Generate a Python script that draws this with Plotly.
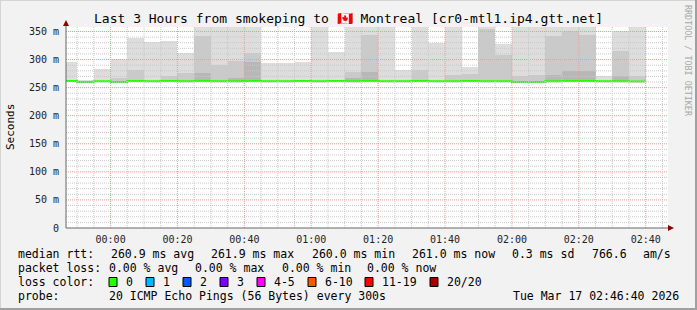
import plotly.graph_objects as go
from datetime import datetime, timedelta

# ---------------- data ----------------
END_TIMES = [
    "2026-03-16 23:50", "2026-03-16 23:55", "2026-03-17 00:00", "2026-03-17 00:05",
    "2026-03-17 00:10", "2026-03-17 00:15", "2026-03-17 00:20", "2026-03-17 00:25",
    "2026-03-17 00:30", "2026-03-17 00:35", "2026-03-17 00:40", "2026-03-17 00:45",
    "2026-03-17 00:50", "2026-03-17 00:55", "2026-03-17 01:00", "2026-03-17 01:05",
    "2026-03-17 01:10", "2026-03-17 01:15", "2026-03-17 01:20", "2026-03-17 01:25",
    "2026-03-17 01:30", "2026-03-17 01:35", "2026-03-17 01:40", "2026-03-17 01:45",
    "2026-03-17 01:50", "2026-03-17 01:55", "2026-03-17 02:00", "2026-03-17 02:05",
    "2026-03-17 02:10", "2026-03-17 02:15", "2026-03-17 02:20", "2026-03-17 02:25",
    "2026-03-17 02:30", "2026-03-17 02:35", "2026-03-17 02:40",
]
MEDIAN_RTT = [
    261.6, 260.1, 261.5, 260.2, 261.7, 261.4, 261.6, 261.5,
    261.8, 261.5, 261.4, 261.6, 261.5, 261.4, 261.6, 261.5,
    261.7, 261.5, 261.6, 261.4, 261.5, 261.6, 261.3, 261.5,
    261.6, 261.4, 261.5, 260.1, 260.0, 261.5, 261.7, 261.6,
    261.4, 261.5, 261.0,
]
SMOKE_MIN = [
    260.6, 259.3, 260.5, 259.4, 260.7, 260.4, 260.6, 260.5,
    260.8, 260.5, 260.4, 260.6, 260.5, 260.4, 260.6, 260.5,
    260.7, 260.5, 260.6, 260.4, 260.5, 260.6, 260.3, 260.5,
    260.6, 260.4, 260.5, 259.3, 259.2, 260.5, 260.7, 260.6,
    260.4, 260.5, 260.0,
]
SMOKE_MAX = [
    296, 262.8, 283, 301, 339, 331.5, 333, 312.5,
    395, 402, 388, 415, 293, 294, 295.5, 398,
    314, 405, 390, 420, 281, 385, 329, 400,
    287, 410, 327, 395, 388, 402, 415, 398,
    271, 350, 392,
]
SMOKE_MID = [
    None, None, None, 268, 282, None, 270, 276,
    342, 290, 298, 311, None, None, None, None,
    None, 278, 343, None, None, 281, None, 272,
    275, 354, 308, 270, 273, 342, 351, 344,
    None, 315, 270,
]
SMOKE_DARK = [
    None, None, None, None, None, None, None, None,
    276, None, 268, 296, None, None, None, None,
    None, 268, 277, None, None, None, None, None,
    None, None, None, None, None, 273, 280, 280,
    None, 271, None,
]
Y_TICKS = [0, 50, 100, 150, 200, 250, 300, 350]
Y_TICK_LABELS = ["0", "50 m", "100 m", "150 m", "200 m", "250 m", "300 m", "350 m"]
X_TICKS = ["2026-03-17 00:00", "2026-03-17 00:20", "2026-03-17 00:40", "2026-03-17 01:00",
           "2026-03-17 01:20", "2026-03-17 01:40", "2026-03-17 02:00", "2026-03-17 02:20",
           "2026-03-17 02:40"]
X_TICK_LABELS = ["00:00", "00:20", "00:40", "01:00", "01:20", "01:40", "02:00", "02:20", "02:40"]
LOSS_LABELS = ["0", "1", "2", "3", "4-5", "6-10", "11-19", "20/20"]
LOSS_COLORS = ["#26ff00", "#00b8ff", "#0059ff", "#7e00ff", "#ff00ff", "#ff5500", "#ff0000", "#a10000"]
RTT_ROW = ["median rtt:", "260.9 ms avg", "261.9 ms max", "260.0 ms min", "261.0 ms now",
           "0.3 ms sd", "766.6", "am/s"]
LOSS_STATS = ["0.00 % avg", "0.00 % max", "0.00 % min", "0.00 % now"]
PROBE_TEXT = "20 ICMP Echo Pings (56 Bytes) every 300s"
STAMP_TEXT = "Tue Mar 17 02:46:40 2026"
TITLE = "Last 3 Hours from smokeping to 🇨🇦 Montreal [cr0-mtl1.ip4.gtt.net]"

# ---------------- layout constants ----------------
FIG_W, FIG_H = 697, 310
L, R, T, B = 66, 668, 27, 228
PW, PH = R - L, B - T
FONT = "DejaVu Sans Mono"
BG = "#f2f2f2"
Y_MAX = 358
X_RANGE = ["2026-03-16 23:46:40", "2026-03-17 02:46:40"]
LEG_SIZE = 11.5
CHAR_W = LEG_SIZE * 0.602


def px(xp):
    return (xp - L) / PW


def py(yp):
    return (B - yp) / PH


t_end = [datetime.strptime(s, "%Y-%m-%d %H:%M") for s in END_TIMES]
step = timedelta(minutes=5)
centers = [t - step / 2 for t in t_end]

fig = go.Figure()


def smoke_layer(tops, color):
    ys = [None if top is None else top - b for top, b in zip(tops, SMOKE_MIN)]
    fig.add_trace(go.Bar(
        x=centers, y=ys, base=SMOKE_MIN, width=step.total_seconds() * 1000,
        marker=dict(color=color, line=dict(width=0)), showlegend=False,
        hoverinfo="skip"))


smoke_layer(SMOKE_MAX, "#dddddd")
smoke_layer(SMOKE_MID, "#cacaca")
smoke_layer(SMOKE_DARK, "#b7b7b7")

# median line (step)
xs = [t - step for t in t_end] + [t_end[-1]]
ys = MEDIAN_RTT + [MEDIAN_RTT[-1]]
fig.add_trace(go.Scatter(x=xs, y=ys, mode="lines", line=dict(color=LOSS_COLORS[0], width=2, shape="hv"),
                         showlegend=False, hoverinfo="skip"))

shapes = []
# horizontal grid
for v in range(10, 360, 10):
    major = v % 50 == 0
    shapes.append(dict(type="line", xref="paper", yref="y", x0=0, x1=1, y0=v, y1=v, layer="above",
                       line=dict(color="#ee9a9a" if major else "#c8c8c8", width=1, dash="1px,1px")))
# vertical grid
g = datetime(2026, 3, 16, 23, 50)
gend = datetime(2026, 3, 17, 2, 46)
while g <= gend:
    major = (g.minute % 20 == 0)
    shapes.append(dict(type="line", xref="x", yref="paper", x0=g, x1=g, y0=0, y1=1, layer="above",
                       line=dict(color="#ee9a9a" if major else "#c8c8c8", width=1, dash="1px,1px")))
    g += step

AXIS_C = "#666666"
ARROW_C = "#8b0000"
# axes
shapes.append(dict(type="line", xref="paper", yref="paper", x0=0, x1=0, y0=0, y1=py(23), layer="above",
                   line=dict(color=AXIS_C, width=1)))
shapes.append(dict(type="line", xref="paper", yref="paper", x0=0, x1=px(670), y0=0, y1=0, layer="above",
                   line=dict(color=AXIS_C, width=1)))
shapes.append(dict(type="path", xref="paper", yref="paper", layer="above",
                   path=f"M {px(63)},{py(26)} L {px(69)},{py(26)} L {px(66)},{py(20)} Z",
                   fillcolor=ARROW_C, line=dict(width=0)))
shapes.append(dict(type="path", xref="paper", yref="paper", layer="above",
                   path=f"M {px(668)},{py(225)} L {px(668)},{py(231)} L {px(674)},{py(228)} Z",
                   fillcolor=ARROW_C, line=dict(width=0)))
# image border (3d shading)
shapes.append(dict(type="line", xref="paper", yref="paper", x0=px(0), x1=px(697), y0=py(0.5), y1=py(0.5),
                   line=dict(color="#d4d4d4", width=1)))
shapes.append(dict(type="line", xref="paper", yref="paper", x0=px(0.5), x1=px(0.5), y0=py(0), y1=py(310),
                   line=dict(color="#d4d4d4", width=1)))
shapes.append(dict(type="line", xref="paper", yref="paper", x0=px(0), x1=px(697), y0=py(309), y1=py(309),
                   line=dict(color="#a0a0a0", width=2)))
shapes.append(dict(type="line", xref="paper", yref="paper", x0=px(696), x1=px(696), y0=py(0), y1=py(310),
                   line=dict(color="#a0a0a0", width=2)))

annotations = []


def text(s, x, y, size=LEG_SIZE, anchor="left", color="#000000", angle=0):
    annotations.append(dict(text=s, x=px(x), y=py(y), xref="paper", yref="paper", showarrow=False,
                            xanchor=anchor, yanchor="middle", textangle=angle,
                            font=dict(family=FONT, size=size, color=color)))


text(TITLE, 348.5, 19, size=13, anchor="center")
text("Seconds", 11, 127, size=11, anchor="center", angle=-90)
text("RRDTOOL / TOBI OETIKER", 688, 61, size=8.4, anchor="center", color="#a8a8a8", angle=90)

ROW_Y = [254, 268, 282, 296]
LEFT_X = 16
RIGHT_X = 669
VAL_X = 107

# justified first legend row (as rrdtool does with \j)
total_w = sum(len(s) for s in RTT_ROW) * CHAR_W
gap = (RIGHT_X - LEFT_X - total_w) / (len(RTT_ROW) - 1)
xcur = LEFT_X
for s in RTT_ROW:
    text(s, xcur, ROW_Y[0])
    xcur += len(s) * CHAR_W + gap

text("packet loss:", LEFT_X, ROW_Y[1])
for s, x in zip(LOSS_STATS, [107, 193, 280, 365]):
    text(s, x, ROW_Y[1])
text("loss color:", LEFT_X, ROW_Y[2])
SQ_X = [109, 146, 183, 220, 257, 308, 365, 430]
for lab, col, x in zip(LOSS_LABELS, LOSS_COLORS, SQ_X):
    shapes.append(dict(type="rect", xref="paper", yref="paper", x0=px(x), x1=px(x + 8),
                       y0=py(ROW_Y[2] - 4.5), y1=py(ROW_Y[2] + 4.5), fillcolor=col,
                       line=dict(color="#000000", width=1)))
    text(lab, x + 15, ROW_Y[2])
text("probe:", LEFT_X, ROW_Y[3])
text(PROBE_TEXT, VAL_X, ROW_Y[3])
text(STAMP_TEXT, 681, ROW_Y[3], anchor="right")

fig.update_layout(
    width=FIG_W, height=FIG_H, autosize=False,
    margin=dict(l=L, r=FIG_W - R, t=T, b=FIG_H - B, pad=0),
    paper_bgcolor=BG, plot_bgcolor="#ffffff",
    barmode="overlay", bargap=0,
    showlegend=False,
    shapes=shapes, annotations=annotations,
    xaxis=dict(type="date", range=X_RANGE, showgrid=False, zeroline=False, showline=False,
               tickvals=X_TICKS, ticktext=X_TICK_LABELS, ticks="outside", ticklen=2,
               tickcolor="rgba(0,0,0,0)", tickfont=dict(family=FONT, size=10, color="#222222")),
    yaxis=dict(range=[0, Y_MAX], showgrid=False, zeroline=False, showline=False,
               tickvals=Y_TICKS, ticktext=Y_TICK_LABELS, ticks="outside", ticklen=4,
               tickcolor="rgba(0,0,0,0)", tickfont=dict(family=FONT, size=10, color="#222222")),
)

fig.write_html("out.html")
